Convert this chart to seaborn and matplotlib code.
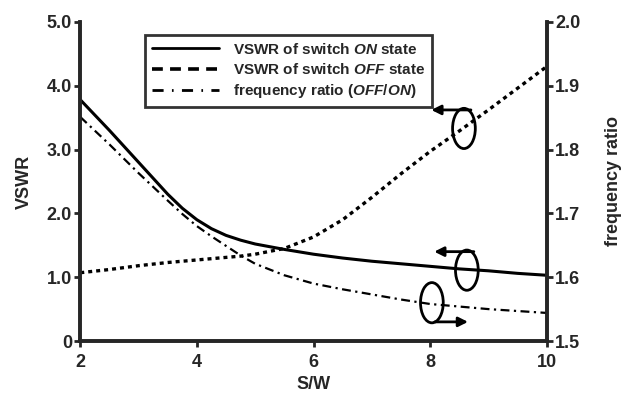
import matplotlib
matplotlib.use("Agg")
import seaborn as sns
from matplotlib import pyplot as plt
from matplotlib.lines import Line2D
from matplotlib.patches import Ellipse, FancyArrowPatch

# Data
sw = [2, 2.5, 3, 3.5, 3.75, 4, 4.25, 4.5, 4.75, 5, 5.5, 6, 6.5, 7, 7.5, 8, 8.5, 9, 9.5, 10]
vswr_on = [3.78, 3.30, 2.80, 2.30, 2.08, 1.90, 1.76, 1.655, 1.58, 1.52, 1.435, 1.36, 1.30,
           1.25, 1.21, 1.17, 1.13, 1.10, 1.06, 1.03]
vswr_off = [1.07, 1.12, 1.18, 1.23, 1.25, 1.27, 1.29, 1.31, 1.33, 1.36, 1.45, 1.63, 1.90,
            2.25, 2.62, 2.97, 3.29, 3.62, 3.96, 4.30]
freq_ratio = [1.851, 1.808, 1.763, 1.72, 1.699, 1.68, 1.664, 1.649, 1.634, 1.621, 1.603, 1.59,
              1.581, 1.573, 1.565, 1.558, 1.554, 1.55, 1.547, 1.544]

sns.set_style("ticks")
plt.rcParams["font.family"] = ["Liberation Sans", "DejaVu Sans"]
plt.rcParams["font.weight"] = "bold"
plt.rcParams["mathtext.fontset"] = "custom"
plt.rcParams["mathtext.it"] = "Liberation Sans:italic:bold"
plt.rcParams["mathtext.rm"] = "Liberation Sans:bold"

fig = plt.figure(figsize=(6.27, 3.97), dpi=100)
ax = fig.add_axes([0.128, 0.141, 0.744, 0.804])
ax2 = ax.twinx()

sns.lineplot(x=sw, y=vswr_on, ax=ax, color="black", linewidth=2.2)
sns.lineplot(x=sw, y=vswr_off, ax=ax, color="black", linewidth=2.4,
             linestyle=(0, (1.2, 1.2)))
sns.lineplot(x=sw, y=freq_ratio, ax=ax2, color="black", linewidth=1.6,
             linestyle=(0, (4, 2, 1, 2)))

ax.set_xlim(2, 10)
ax.set_ylim(0, 5)
ax2.set_ylim(1.5, 2.0)
ax.set_xticks([2, 4, 6, 8, 10])
ax.set_yticks([0, 1, 2, 3, 4, 5])
ax.set_yticklabels(["0", "1.0", "2.0", "3.0", "4.0", "5.0"])
ax2.set_yticks([1.5, 1.6, 1.7, 1.8, 1.9, 2.0])
ax2.set_yticklabels(["1.5", "1.6", "1.7", "1.8", "1.9", "2.0"])

for a in (ax, ax2):
    a.spines["top"].set_visible(False)
    for s in a.spines.values():
        s.set_linewidth(2.6)
    a.tick_params(width=2, length=4, labelsize=13, pad=2)
    for lab in a.get_xticklabels() + a.get_yticklabels():
        lab.set_fontweight("bold")
ax.tick_params(axis="x", pad=5)

ax.set_xlabel("S/W", fontsize=13, fontweight="bold", labelpad=4)
ax.set_ylabel("VSWR", fontsize=13, fontweight="bold", labelpad=10)
ax2.set_ylabel("frequency ratio", fontsize=13, fontweight="bold", labelpad=18)

# Legend (handles drawn like the original key)
handles = [
    Line2D([], [], color="black", linewidth=2),
    Line2D([], [], color="black", linewidth=2.6, linestyle=(0, (3, 2))),
    Line2D([], [], color="black", linewidth=2, linestyle=(0, (4, 3, 0.6, 3))),
]
labels = [
    r"VSWR of switch $\mathit{ON}$ state",
    r"VSWR of switch $\mathit{OFF}$ state",
    r"frequency ratio ($\mathit{OFF/ON}$)",
]
leg = ax.legend(handles, labels, loc="upper left", bbox_to_anchor=(0.139, 0.959),
                borderaxespad=0, frameon=True, fancybox=False, edgecolor="black",
                handlelength=4.4, handletextpad=0.9, borderpad=0.45, labelspacing=0.35,
                prop={"weight": "bold", "size": 11})
leg.get_frame().set_linewidth(2)

# Axis indicators: ellipses with arrows
def marker(x, y, left=True):
    ax.add_patch(Ellipse((x, y), 0.39, 0.63, fill=False, linewidth=2, color="black"))
    if left:
        ax.add_patch(FancyArrowPatch((x + 0.12, y + 0.29), (x - 0.56, y + 0.29),
                                     arrowstyle="-|>", mutation_scale=14,
                                     linewidth=2, color="black",
                                     shrinkA=0, shrinkB=0))
    else:
        ax.add_patch(FancyArrowPatch((x + 0.05, y - 0.3), (x + 0.62, y - 0.3),
                                     arrowstyle="-|>", mutation_scale=14,
                                     linewidth=2, color="black",
                                     shrinkA=0, shrinkB=0))

marker(8.58, 3.33, left=True)
marker(8.63, 1.11, left=True)
marker(8.03, 0.6, left=False)

fig.savefig("out.png", dpi=100)
plt.close()
